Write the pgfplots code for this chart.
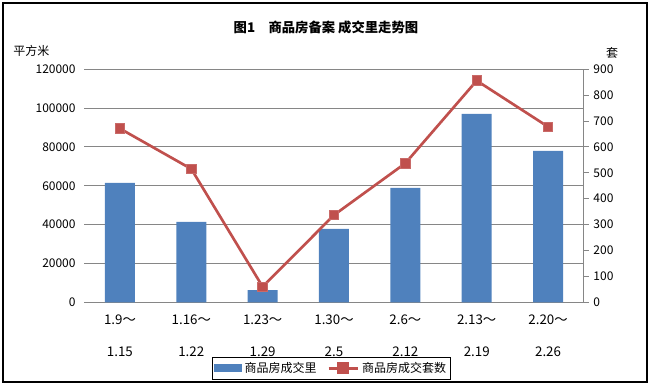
\documentclass[border=0pt]{standalone}
\usepackage{pgfplots}
\pgfplotsset{compat=1.18}
\usepackage{fontspec}
\setmainfont{Noto Sans CJK SC}
\definecolor{barblue}{HTML}{4F81BD}
\definecolor{linered}{HTML}{C0504D}
\definecolor{gridgray}{HTML}{868686}
\begin{document}
\begin{tikzpicture}
\useasboundingbox (0,0) rectangle (488.25pt,289.5pt);
\draw[black, line width=0.8pt] (2.25pt,3pt) rectangle (485.25pt,287.25pt);
\node[font=\fontsize{10}{12}\selectfont\bfseries] at (244.5pt,269.25pt) {图1\quad 商品房备案 成交里走势图};
\node[font=\fontsize{9}{11}\selectfont, anchor=west, inner sep=0pt] at (9.75pt,251.25pt) {平方米};
\node[font=\fontsize{9}{11}\selectfont, inner sep=0pt] at (459pt,249.75pt) {套};
\begin{axis}[
  at={(63.2pt,62.8pt)}, anchor=south west,
  scale only axis, width=374.6pt, height=174.75pt,
  xmin=-0.5, xmax=6.5, ymin=0, ymax=120000,
  ytick={0,20000,40000,60000,80000,100000,120000},
  scaled y ticks=false,
  /pgf/number format/assume math mode=true,
  /pgf/number format/fixed,
  /pgf/number format/1000 sep={},
  ymajorgrids, grid style={gridgray, line width=0.8pt},
  axis line style={draw=none},
  major tick length=0pt,
  xtick={0,1,2,3,4,5,6},
  xticklabels={{1.9～\\[12pt]1.15},{1.16～\\[12pt]1.22},{1.23～\\[12pt]1.29},{1.30～\\[12pt]2.5},{2.6～\\[12pt]2.12},{2.13～\\[12pt]2.19},{2.20～\\[12pt]2.26}},
  xticklabel style={align=center, font=\fontsize{10}{12}\selectfont, yshift=-6pt},
  yticklabel style={font=\fontsize{9}{11}\selectfont, xshift=-3pt},
]
\addplot[ybar, bar width=22.5pt, fill=barblue, draw=none] coordinates {(0,61500) (1,41400) (2,6300) (3,37800) (4,58900) (5,97000) (6,78000)};
\end{axis}
\begin{axis}[
  at={(63.2pt,62.8pt)}, anchor=south west,
  scale only axis, width=374.6pt, height=174.75pt,
  xmin=-0.5, xmax=6.5, ymin=0, ymax=900,
  axis x line=none, axis y line*=right,
  ytick={0,100,...,900},
  /pgf/number format/assume math mode=true,
  axis line style={gridgray, line width=0.8pt},
  tick style={gridgray, line width=0.8pt},
  tick align=outside, major tick length=3.75pt,
  yticklabel style={font=\fontsize{9}{11}\selectfont, xshift=0pt},
  legend style={at={(0.495,-0.284)}, anchor=center, draw=black, line width=0.8pt, font=\fontsize{9}{11}\selectfont, legend columns=2, inner sep=1.5pt, /tikz/every even column/.append style={column sep=6pt}},
]
\addlegendimage{legend image code/.code={\fill[barblue] (0pt,-2.6pt) rectangle (20pt,2.6pt);}}
\addlegendentry{商品房成交里}
\addplot[linered, line width=2pt, mark=square*, mark size=3.6pt, mark options={fill=linered, draw=linered!85!white, line width=0.6pt},
  legend image code/.code={\draw[linered,line width=2pt] (0pt,0pt)--(22pt,0pt); \fill[linered] (7.5pt,-3.5pt) rectangle (14.5pt,3.5pt);}]
  coordinates {(0,671) (1,515) (2,60) (3,337) (4,537) (5,856) (6,678)};
\addlegendentry{商品房成交套数}
\end{axis}
\end{tikzpicture}
\end{document}
